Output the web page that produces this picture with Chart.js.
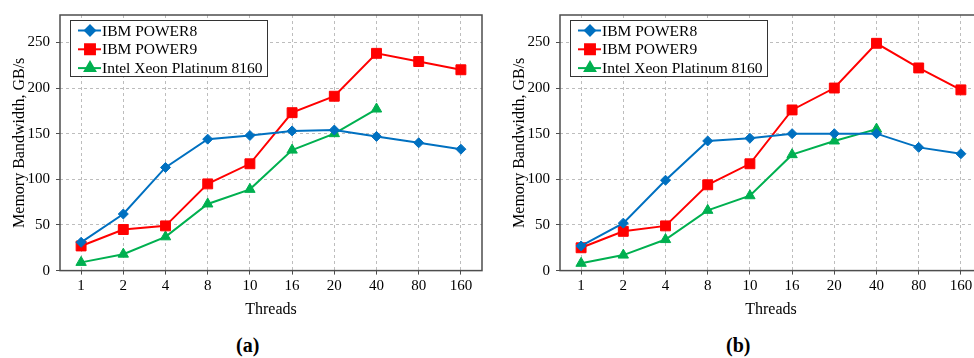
<!DOCTYPE html>
<html>
<head>
<meta charset="utf-8">
<script src="https://cdn.jsdelivr.net/npm/chart.js@4.4.1/dist/chart.umd.min.js"></script>
<style>
  html, body { margin: 0; padding: 0; background: #fff; }
  body { width: 974px; height: 358px; overflow: hidden; position: relative; }
  .box { position: absolute; top: 0; width: 490px; height: 320px; }
  .cap { position: absolute; top: 334px; font: bold 20px "Liberation Serif", serif; color: #000; }
</style>
</head>
<body>
<div class="box" style="left:0"><canvas id="chartA"></canvas></div>
<div class="box" style="left:500px"><canvas id="chartB"></canvas></div>
<div class="cap" style="left:236px">(<span>a</span>)</div>
<div class="cap" style="left:726px">(<span>b</span>)</div>
<script>
//Thread counts on the x axis
const threads = ['1', '2', '4', '8', '10', '16', '20', '40', '80', '160'];
const yTicks = [0, 50, 100, 150, 200, 250];

//Panel (a)
const power8A = [31, 62, 113, 144, 148, 153, 154, 147, 140, 133];
const power9A = [27, 45, 49, 95, 117, 173, 191, 238, 229, 220];
const xeonA = [9, 18, 37, 73, 89, 132, 150, 177, null, null];

//Panel (b)
const power8B = [27, 52, 99, 142, 145, 150, 150, 150, 135, 128];
const power9B = [25, 43, 49, 94, 117, 176, 200, 249, 222, 198];
const xeonB = [8, 17, 34, 66, 82, 127, 142, 155, null, null];

const serif = '"Liberation Serif", "Times New Roman", serif';
const frameColor = '#4d4d4d';

//Draws the box round the plot and the legend inside it
const framePlugin = {
  id: 'frame',
  afterDraw(chart) {
    const ctx = chart.ctx;
    const a = chart.chartArea;
    ctx.save();
    ctx.strokeStyle = frameColor;
    ctx.lineWidth = 1.5;
    ctx.strokeRect(a.left, a.top, a.right - a.left, a.bottom - a.top);

    //legend box
    const lx = a.left + 10, ly = a.top + 5, lw = 197, lh = 56;
    ctx.fillStyle = '#fff';
    ctx.fillRect(lx, ly, lw, lh);
    ctx.strokeStyle = '#333';
    ctx.lineWidth = 1;
    ctx.strokeRect(lx + 0.5, ly + 0.5, lw, lh);
    ctx.font = '15.5px ' + serif;
    ctx.textBaseline = 'middle';
    chart.data.datasets.forEach((ds, i) => {
      const y = ly + 10.5 + i * 18.8;
      ctx.strokeStyle = ds.borderColor;
      ctx.lineWidth = 2;
      ctx.beginPath();
      ctx.moveTo(lx + 8, y);
      ctx.lineTo(lx + 31, y);
      ctx.stroke();
      Chart.helpers.drawPoint(ctx, {
        pointStyle: ds.pointStyle, radius: ds.pointRadius, borderWidth: 1, rotation: 0
      }, lx + 20, y);
      ctx.fillStyle = ds.borderColor;
      ctx.fill();
      ctx.fillStyle = '#000';
      ctx.fillText(ds.label, lx + 32, y + 1);
    });
    ctx.restore();
  }
};

function makeChart(id, p8, p9, xeon) {
  const series = [
    { label: 'IBM POWER8', data: p8, color: '#0070C0', style: 'rectRot', r: 5 },
    { label: 'IBM POWER9', data: p9, color: '#FF0000', style: 'rect', r: 7 },
    { label: 'Intel Xeon Platinum 8160', data: xeon, color: '#00B050', style: 'triangle', r: 6 }
  ];
  new Chart(document.getElementById(id), {
    type: 'line',
    data: {
      labels: threads,
      datasets: series.map(s => ({
        label: s.label,
        data: s.data,
        borderColor: s.color,
        backgroundColor: s.color,
        borderWidth: 2,
        pointStyle: s.style,
        pointRadius: s.r,
        pointHoverRadius: s.r,
        pointBorderWidth: 1,
        spanGaps: false,
        tension: 0
      }))
    },
    options: {
      responsive: false,
      animation: false,
      events: [],
      layout: { padding: { top: 12, right: 6, left: 10, bottom: 0 } },
      plugins: { legend: { display: false }, tooltip: { enabled: false } },
      scales: {
        x: {
          offset: true,
          afterFit: scale => { scale.height = 49.4; },
          grid: { color: '#bdbdbd', tickLength: 4, tickColor: frameColor, tickBorderDash: [], tickWidth: 1 },
          border: { display: false, dash: [3, 3] },
          ticks: { color: '#000', padding: 2, font: { family: serif, size: 15 }, maxRotation: 0 },
          title: { display: true, text: 'Threads', color: '#000', font: { family: serif, size: 16 }, padding: { top: 0, bottom: 1 } }
        },
        y: {
          min: 0,
          max: 280,
          afterFit: scale => { scale.width = 50; },
          afterBuildTicks: scale => { scale.ticks = yTicks.map(v => ({ value: v })); },
          grid: { color: '#bdbdbd', tickLength: 4, tickColor: frameColor, tickBorderDash: [], tickWidth: 1 },
          border: { display: false, dash: [3, 3] },
          ticks: { color: '#000', padding: 6, font: { family: serif, size: 15 } },
          title: { display: true, text: 'Memory Bandwidth, GB/s', color: '#000', font: { family: serif, size: 16 }, padding: { top: 0, bottom: 0 } }
        }
      }
    },
    plugins: [framePlugin]
  });
}

document.getElementById('chartA').width = 490;
document.getElementById('chartA').height = 320;
document.getElementById('chartB').width = 490;
document.getElementById('chartB').height = 320;
makeChart('chartA', power8A, power9A, xeonA);
makeChart('chartB', power8B, power9B, xeonB);
</script>
</body>
</html>
